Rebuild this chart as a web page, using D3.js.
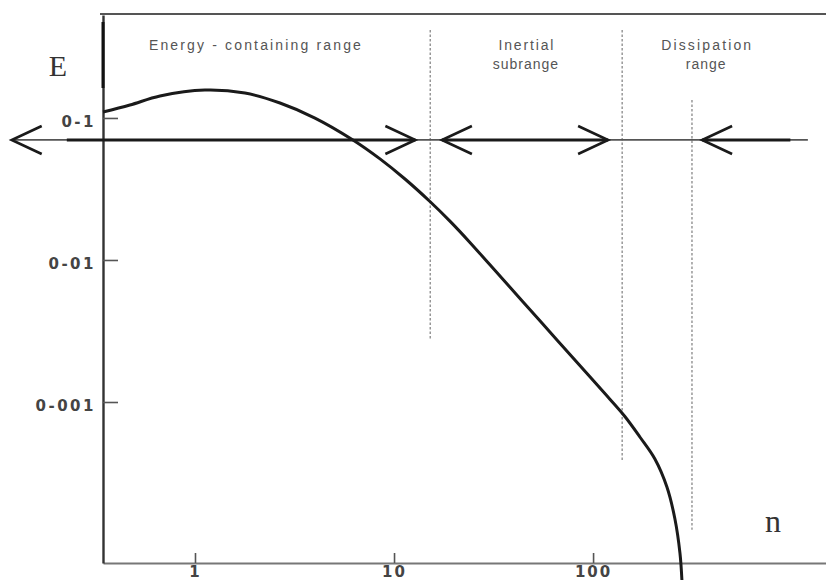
<!DOCTYPE html>
<html>
<head>
<meta charset="utf-8">
<script src="https://cdn.jsdelivr.net/npm/d3@7"></script>
<style>
  html, body { margin: 0; padding: 0; background: #fff; }
  svg { display: block; }
</style>
</head>
<body>
<svg id="chart" width="826" height="580"></svg>
<script>
// Energy spectrum E(n) over wavenumber n (log-log)
const spectrumN = [0.345, 0.471, 0.667, 1.122, 1.783, 2.673, 4.007, 6.218, 8.501, 11.35, 15.15, 19.09, 24.06, 30.33, 54.08, 96.43, 121.5, 144.5, 171.9, 204.5, 235.0, 257.8, 273.2, 279.5];
const spectrumE = [0.1102, 0.1234, 0.1428, 0.1574, 0.1499, 0.1274, 0.0999, 0.0700, 0.0515, 0.03718, 0.02581, 0.01878, 0.0133, 0.009249, 0.003729, 0.001505, 0.001046, 0.00079, 0.000567, 0.000397, 0.000252, 0.00015, 0.0000864, 0.0000558];

// Axis extents and ticks
const nExtent = [0.345, 1480];
const eExtent = [0.0000735, 0.531];
const xTicks = [1, 10, 100];
const xTickLabels = ["1", "10", "100"];
const yTicks = [0.1, 0.01, 0.001];
const yTickLabels = ["0-1", "0-01", "0-001"];

// Range boundaries (dashed) : wavenumber, top and bottom energy
const boundaryN = [15.2, 140, 314];
const boundaryTop = [0.417, 0.417, 0.134];
const boundaryBottom = [0.00273, 0.000391, 0.000126];

// Range names and where they sit
const rangeNames = [["Energy - containing range"], ["Inertial", "subrange"], ["Dissipation", "range"]];
const rangeCentreN = [2.0, 46, 370];

// Horizontal arrows marking the ranges
const arrowLevel = 0.07;
const arrowLineN = [0.12, 1200];
const arrowFrom = [0.12, 17.4, 353];
const arrowTo = [12.8, 119, 1200];
const arrowHeadStart = [true, true, true];
const arrowHeadEnd = [true, true, false];
const shaftFrom = [0.227, 17.4, 353];
const shaftTo = [12.8, 119, 980];

const svg = d3.select("#chart");
const plotLeft = 103, plotRight = 826, plotTop = 15, plotBottom = 563;

const x = d3.scaleLog().domain(nExtent).range([plotLeft, plotRight]);
const y = d3.scaleLog().domain(eExtent).range([plotBottom, plotTop]);

// Top frame line
svg.append("line")
  .attr("x1", plotLeft - 3).attr("x2", plotRight)
  .attr("y1", y(eExtent[1]) - 1).attr("y2", y(eExtent[1]) - 1)
  .attr("stroke", "#555").attr("stroke-width", 2.2);

// Bottom axis
const xAxis = svg.append("g")
  .attr("transform", `translate(0,${plotBottom})`)
  .call(d3.axisBottom(x).tickValues(xTicks).tickSize(-10).tickSizeOuter(0).tickPadding(3)
    .tickFormat((d, i) => xTickLabels[i]));
xAxis.select(".domain").attr("stroke", "#777").attr("stroke-width", 2.2);
xAxis.selectAll(".tick line").attr("stroke", "#555").attr("stroke-width", 1.6);
xAxis.selectAll(".tick text")
  .attr("fill", "#444")
  .style("font-family", "'DejaVu Sans', sans-serif")
  .style("font-size", "15px")
  .style("font-weight", "bold")
  .style("letter-spacing", "2px");

// Left axis
const yAxis = svg.append("g")
  .attr("transform", `translate(${plotLeft},0)`)
  .call(d3.axisLeft(y).tickValues(yTicks).tickSize(-15).tickSizeOuter(0).tickPadding(7)
    .tickFormat((d, i) => yTickLabels[i]));
yAxis.select(".domain").attr("stroke", "#333").attr("stroke-width", 2.4);
yAxis.selectAll(".tick line").attr("stroke", "#555").attr("stroke-width", 1.6);
yAxis.selectAll(".tick text")
  .attr("fill", "#444")
  .attr("dy", "0.55em")
  .style("font-family", "'DejaVu Sans', sans-serif")
  .style("font-size", "15px")
  .style("font-weight", "bold")
  .style("letter-spacing", "2.5px");

// Heavier ink on the upper part of the energy axis
svg.append("line")
  .attr("x1", plotLeft).attr("x2", plotLeft)
  .attr("y1", 22).attr("y2", 88)
  .attr("stroke", "#111").attr("stroke-width", 3);

// Axis titles
svg.append("text")
  .attr("x", 58).attr("y", 76)
  .attr("text-anchor", "middle")
  .attr("fill", "#333")
  .style("font-family", "'Liberation Serif', 'DejaVu Serif', serif")
  .style("font-size", "30px")
  .text("E");
svg.append("text")
  .attr("x", 773).attr("y", 532)
  .attr("text-anchor", "middle")
  .attr("fill", "#333")
  .style("font-family", "'Liberation Serif', 'DejaVu Serif', serif")
  .style("font-size", "32px")
  .text("n");

// Dashed range boundaries
svg.append("g").selectAll("line")
  .data(boundaryN)
  .join("line")
  .attr("x1", d => x(d)).attr("x2", d => x(d))
  .attr("y1", (d, i) => y(boundaryTop[i]))
  .attr("y2", (d, i) => y(boundaryBottom[i]))
  .attr("stroke", "#888")
  .attr("stroke-width", 1.3)
  .attr("stroke-dasharray", "2.5,2");

// Range names
const nameWidths = [212, 55, 90];
const nameGroup = svg.append("g")
  .attr("fill", "#555")
  .style("font-family", "'Liberation Sans', Arial, sans-serif")
  .style("font-size", "14px");
rangeNames.forEach((lines, i) => {
  lines.forEach((txt, j) => {
    const t = nameGroup.append("text")
      .attr("x", x(rangeCentreN[i]))
      .attr("y", 50 + j * 19)
      .attr("text-anchor", "middle")
      .text(txt);
    if (j === 0) t.attr("textLength", nameWidths[i]).attr("lengthAdjust", "spacing");
    else t.style("letter-spacing", "1px");
  });
});

// Arrow line
const ay = y(arrowLevel);
svg.append("line")
  .attr("x1", x(arrowLineN[0])).attr("x2", x(arrowLineN[1]))
  .attr("y1", ay).attr("y2", ay)
  .attr("stroke", "#555").attr("stroke-width", 1.8);
svg.append("g").selectAll("line")
  .data(shaftFrom)
  .join("line")
  .attr("x1", d => x(d)).attr("x2", (d, i) => x(shaftTo[i]))
  .attr("y1", ay).attr("y2", ay)
  .attr("stroke", "#1a1a1a").attr("stroke-width", 3);

// Open arrow heads
const headLen = 30, headHalf = 14;
const heads = [];
arrowFrom.forEach((d, i) => {
  if (arrowHeadStart[i]) heads.push({ tip: x(d), dir: -1 });
  if (arrowHeadEnd[i]) heads.push({ tip: x(arrowTo[i]), dir: 1 });
});
svg.append("g").selectAll("path")
  .data(heads)
  .join("path")
  .attr("d", h => `M${h.tip - h.dir * headLen},${ay - headHalf}L${h.tip},${ay}L${h.tip - h.dir * headLen},${ay + headHalf}`)
  .attr("fill", "none")
  .attr("stroke", "#1a1a1a")
  .attr("stroke-width", 2.6)
  .attr("stroke-linejoin", "miter");

// Spectrum curve
const line = d3.line()
  .x(d => x(d[0]))
  .y(d => y(d[1]))
  .curve(d3.curveCatmullRom.alpha(0.5));
svg.append("path")
  .datum(spectrumN.map((n, i) => [n, spectrumE[i]]))
  .attr("d", line)
  .attr("fill", "none")
  .attr("stroke", "#1a1a1a")
  .attr("stroke-width", 3);
</script>
</body>
</html>
